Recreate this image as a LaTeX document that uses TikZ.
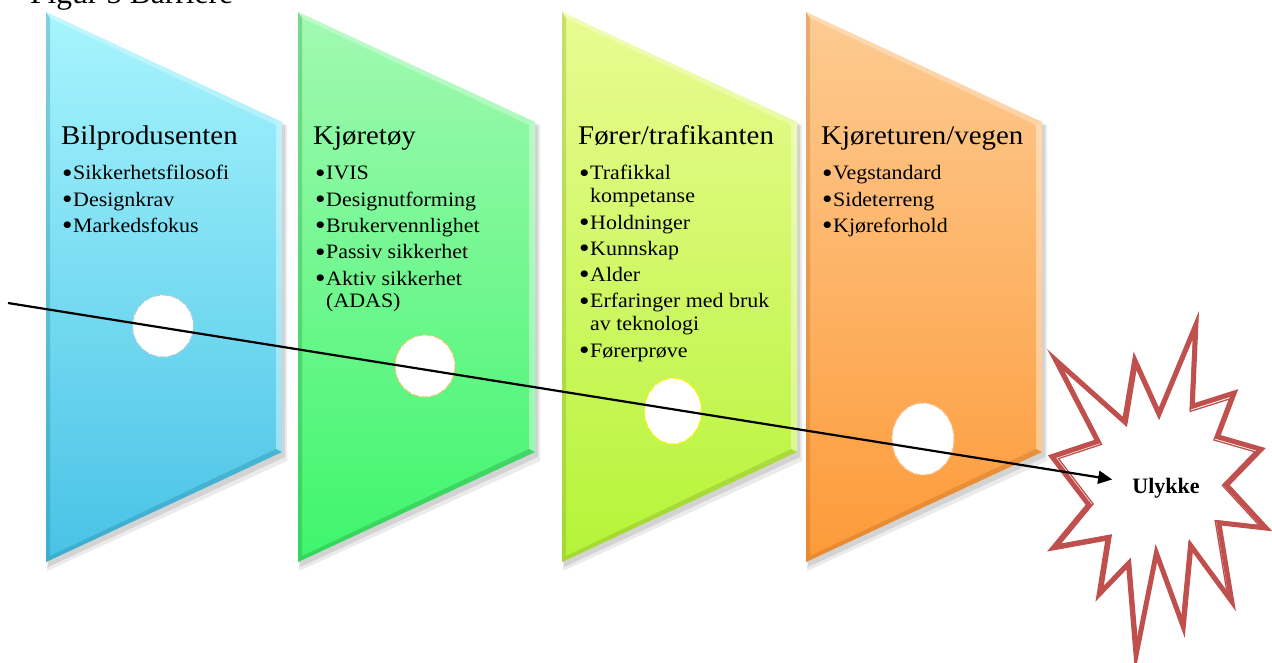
\documentclass[tikz,border=0pt]{standalone}
\usepackage{fontspec}
\setmainfont{Liberation Serif}
\newfontfamily\panelfont[FakeStretch=1.07]{Liberation Serif}
\usetikzlibrary{arrows.meta}
\definecolor{aT}{HTML}{A8F5FD}\definecolor{aB}{HTML}{48C2E6}\definecolor{aD}{HTML}{1F7F9C}\definecolor{aH}{HTML}{A8D0DC}
\definecolor{bT}{HTML}{A2F9B2}\definecolor{bB}{HTML}{3EF56C}\definecolor{bD}{HTML}{1E8F3A}\definecolor{bH}{HTML}{E8C870}
\definecolor{cT}{HTML}{EAFB92}\definecolor{cB}{HTML}{B5F438}\definecolor{cD}{HTML}{7A9E1E}\definecolor{cH}{HTML}{FFF200}
\definecolor{dT}{HTML}{FDCB92}\definecolor{dB}{HTML}{FD9A38}\definecolor{dD}{HTML}{B8661C}\definecolor{dH}{HTML}{F9C08A}
\definecolor{starred}{HTML}{C0504D}
\newcommand\bigbul{\raisebox{-2.2pt}{\fontsize{28}{28}\selectfont\textbullet}}
\newcommand\bitem[1]{\hbox{\makebox[10pt][l]{\hspace*{-1pt}\bigbul}#1}}
\newcommand\bcont[1]{\vskip-3.5pt\hbox{\hspace*{10pt}#1}}
\newcommand\panelshape[5]{%
  \fill[black,opacity=0.08] (#1+1,14) -- (#2+5,125) -- (#2+5,461) -- (#1+1,571) -- cycle;
  \fill[black,opacity=0.10] (#1+2,16) -- (#2+3,126) -- (#2+3,457) -- (#1+2,567) -- cycle;
  \shade[top color=#3, bottom color=#4] (#1,12) -- (#2,122) -- (#2,452) -- (#1,562) -- cycle;
  \fill[white,opacity=0.40] (#2-6,125) -- (#2,122) -- (#2,452) -- (#2-6,449) -- cycle;
  \fill[white,opacity=0.30] (#1,12) -- (#2,122) -- (#2-6,125) -- (#1+4,18) -- cycle;
  \fill[#5,opacity=0.30] (#1,12) -- (#1+4,18) -- (#1+4,556) -- (#1,562) -- cycle;
  \fill[#5,opacity=0.30] (#1,562) -- (#1+4,556) -- (#2-6,449) -- (#2,452) -- cycle;
}
\newcommand\starshape[1]{\draw[#1] (0.5000,0.2685) -- (0.6723,0) -- (0.6553,0.2465) -- (0.8509,0.2063) -- (0.7732,0.3387) -- (0.9767,0.3767) -- (0.8151,0.4850) -- (1,0.6153) -- (0.7795,0.5992) -- (0.8400,0.8377) -- (0.6491,0.6693) -- (0.6133,0.9138) -- (0.4876,0.6914) -- (0.3928,1) -- (0.3572,0.7235) -- (0.2205,0.8156) -- (0.2624,0.6452) -- (0.00625,0.6753) -- (0.1723,0.5451) -- (0,0.3988) -- (0.2142,0.3526) -- (0.0171,0.1063) -- (0.3385,0.2926) -- (0.3867,0.1063) -- cycle;}
\begin{document}
\begin{tikzpicture}[x=1pt,y=-1pt,
  hdr/.style={anchor=base west, inner sep=0pt, font=\panelfont\fontsize{27}{30}\selectfont},
  itemlist/.style={anchor=base west, inner sep=0pt, font=\panelfont\fontsize{20.5}{26.3}\selectfont},
  hole/.style={fill=white, line width=1.1pt, dash pattern=on 7pt off 2pt}]
\useasboundingbox (0,0) rectangle (1272,663);
\clip (0,0) rectangle (1272,663);
\node[anchor=base west, inner sep=0pt, font=\fontsize{31.5}{34}\selectfont] (title) at (30,4) {Figur 5 Barriere};
% panels
\panelshape{46}{282}{aT}{aB}{aD}
\panelshape{298}{535}{bT}{bB}{bD}
\panelshape{562}{797}{cT}{cB}{cD}
\panelshape{806}{1042}{dT}{dB}{dD}
% holes
\filldraw[hole, draw=aH] (163,326) ellipse [x radius=30.5, y radius=31];
\filldraw[hole, draw=bH] (425,366) ellipse [x radius=30, y radius=31];
\filldraw[hole, draw=cH] (673,411) ellipse [x radius=28.5, y radius=33];
\filldraw[hole, draw=dH] (923,439) ellipse [x radius=31, y radius=36];
% texts
\node[hdr] (h1) at (61,145) {Bilprodusenten};
\node[itemlist] (l1) at (63,180) {\vtop{\bitem{Sikkerhetsfilosofi}\bitem{Designkrav}\bitem{Markedsfokus}}};
\node[hdr] (h2) at (313,145) {Kjøretøy};
\node[itemlist] (l2) at (316,180) {\vtop{\bitem{IVIS}\bitem{Designutforming}\bitem{Brukervennlighet}\bitem{Passiv sikkerhet}\bitem{Aktiv sikkerhet}\bcont{(ADAS)}}};
\node[hdr] (h3) at (578,145) {Fører/trafikanten};
\node[itemlist] (l3) at (580,180) {\vtop{\bitem{Trafikkal}\bcont{kompetanse}\bitem{Holdninger}\bitem{Kunnskap}\bitem{Alder}\bitem{Erfaringer med bruk}\bcont{av teknologi}\bitem{Førerprøve}}};
\node[hdr] (h4) at (821,145) {Kjøreturen/vegen};
\node[itemlist] (l4) at (823,180) {\vtop{\bitem{Vegstandard}\bitem{Sideterreng}\bitem{Kjøreforhold}}};
% star
\begin{scope}[shift={(1052,325)}, xscale=214, yscale=330]
  \starshape{fill=white, draw=starred, line width=5pt, line join=miter}
\end{scope}
\begin{scope}[shift={(1159,490)}, xscale=201, yscale=310, shift={(-0.5,-0.5)}]
  \starshape{draw=starred, line width=1.3pt, line join=miter}
\end{scope}
\node[font=\bfseries\fontsize{22}{24}\selectfont, inner xsep=20pt, inner ysep=8pt] (ulykke) at (1166,488) {Ulykke};
% connector
\coordinate (start) at (8,303);
\draw[line width=2.2pt, -{Triangle[length=14pt,width=13pt]}] (start) -- (ulykke);
\end{tikzpicture}
\end{document}
